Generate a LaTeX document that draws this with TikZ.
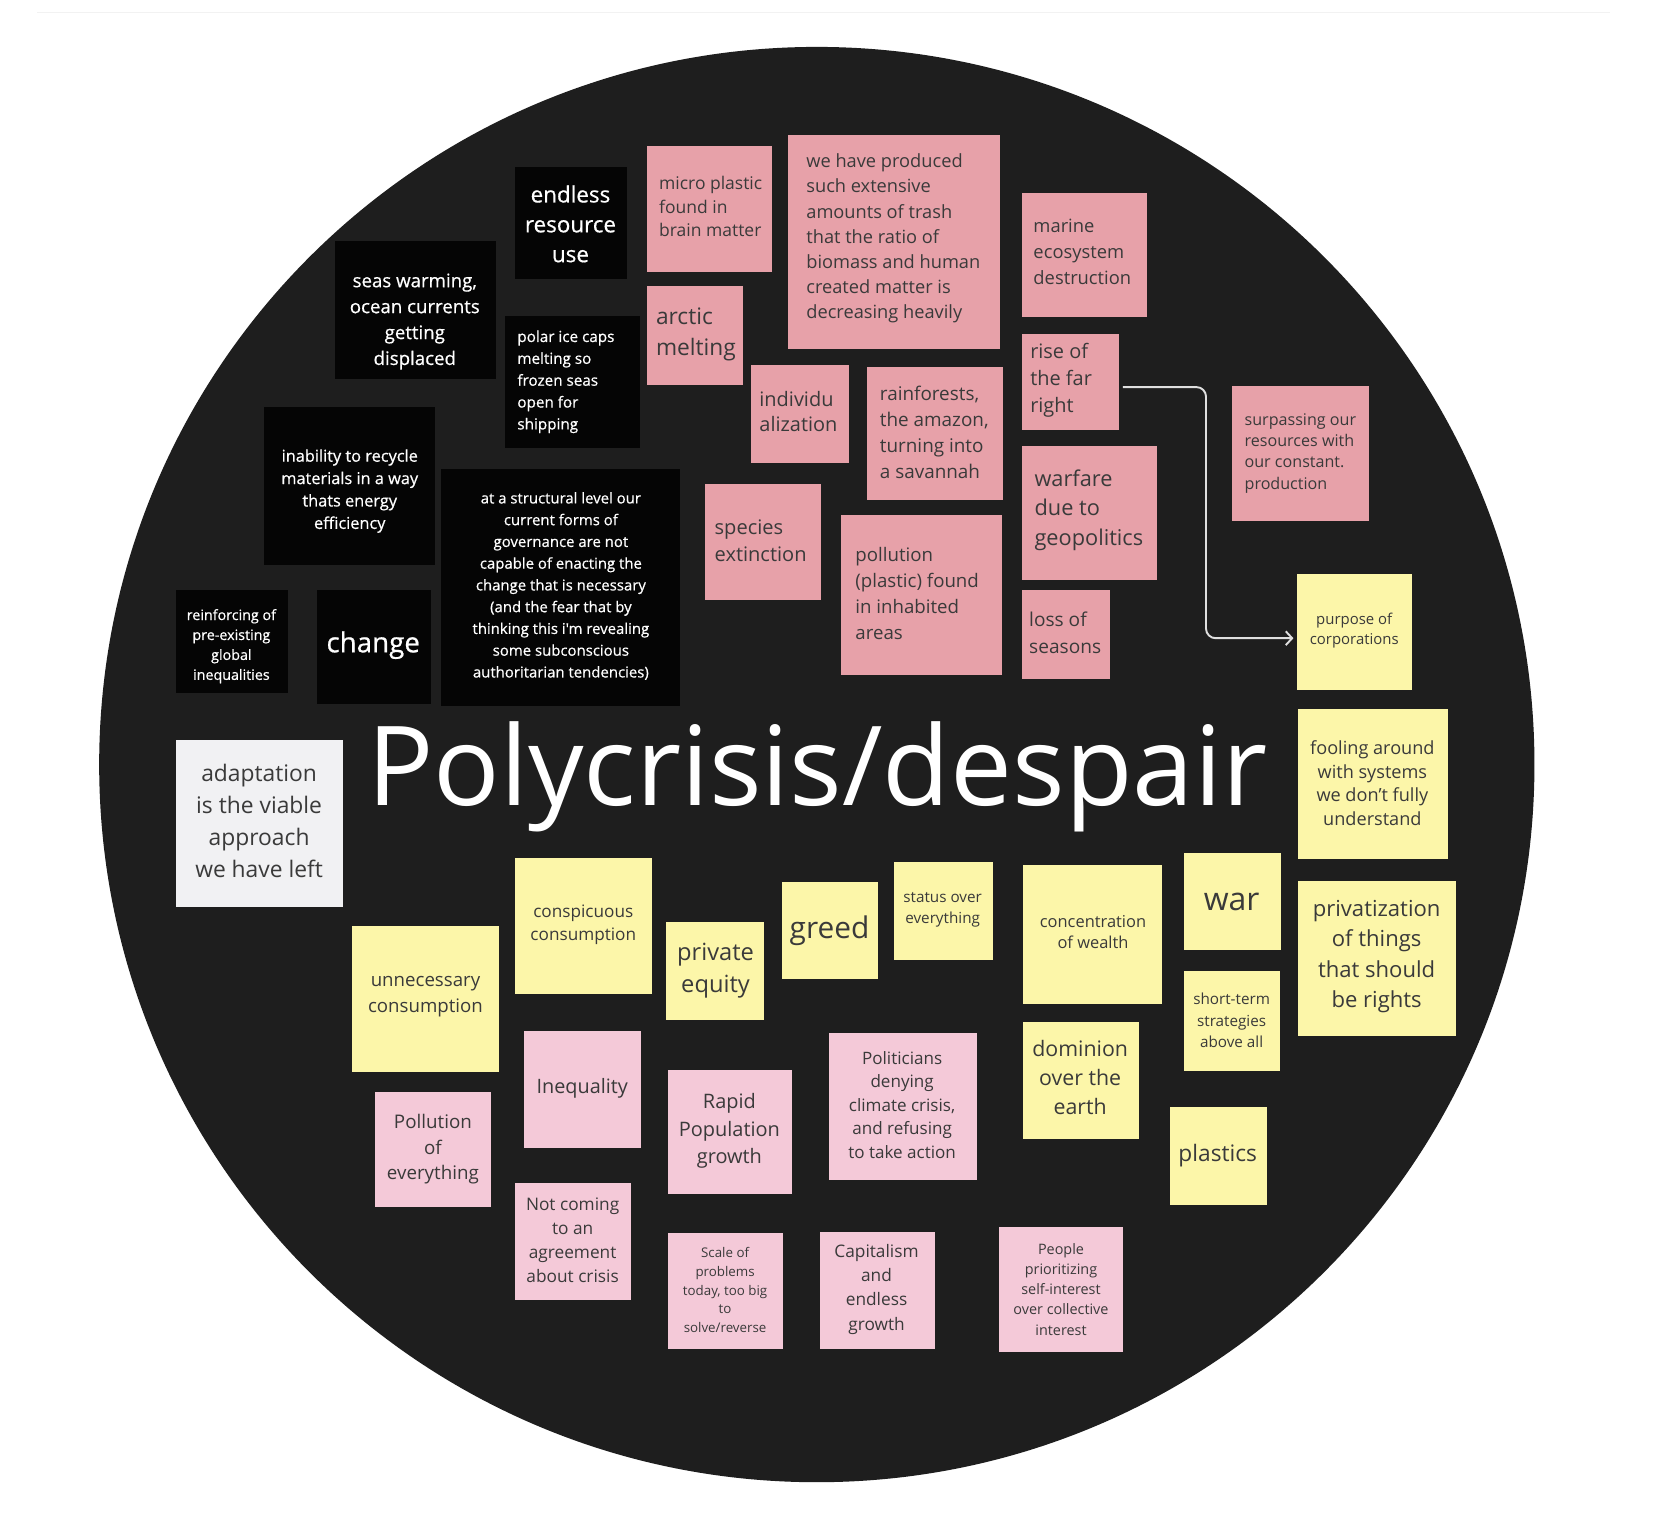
\documentclass[tikz,border=0pt]{standalone}
\usepackage{fontspec}
\setmainfont{Open Sans}
\newfontfamily\semi{Open Sans}[FakeBold=0.6]
\usetikzlibrary{arrows.meta}
\definecolor{bg}{HTML}{1E1E1E}
\definecolor{salmon}{HTML}{E7A1A9}
\definecolor{lpink}{HTML}{F4C9D8}
\definecolor{yel}{HTML}{FCF6A9}
\definecolor{wnote}{HTML}{F1F1F3}
\definecolor{ink}{HTML}{3A3A3A}
\definecolor{blacknote}{HTML}{050505}
\newcommand\fs[2]{\fontsize{#1}{#2}\selectfont}
\newcommand\sticky[6]{\node[#2, minimum width={#5-#3}, minimum height={#6-#4}] (#1) at ({(#3+#5)/2},{(#4+#6)/2}) {};}
\tikzset{
 sbox/.style={draw=none, inner sep=0, outer sep=0, rectangle},
 blk/.style={sbox, fill=blacknote},
 sal/.style={sbox, fill=salmon},
 pnk/.style={sbox, fill=lpink},
 yw/.style={sbox, fill=yel},
 wh/.style={sbox, fill=wnote},
 tw/.style={inner sep=0, text=white, align=center},
 twl/.style={inner sep=0, text=white, align=left, anchor=west},
 tk/.style={inner sep=0, text=ink, align=center},
 tkl/.style={inner sep=0, text=ink, align=left, anchor=west},
 conn/.style={draw=gray!25, line width=1.8pt, rounded corners=9pt, -{Straight Barb[length=6pt,width=13pt]}}
}
\begin{document}
\begin{tikzpicture}[x={(1pt,0)}, y={(0,-1pt)}]
\useasboundingbox (0,0) rectangle (1568,1429);
\fill[white] (0,0) rectangle (1568,1429);
\draw[gray!10, line width=1pt] (35,12) -- (1510,12);
\fill[bg] (766,717) circle[radius=673pt];

% black notes
\sticky{endless}{blk}{483}{157}{588}{262}
\node[tw, font=\semi\fs{21}{28}] (endless-t) at (535,210) {endless\\resource\\use};
\sticky{seas}{blk}{314}{226}{465}{355}
\node[tw, font=\semi\fs{17.5}{24.3}] (seas-t) at (389,301.5) {seas warming,\\ocean currents\\getting\\displaced};
\sticky{polar}{blk}{474}{296}{600}{420}
\node[twl, font=\semi\fs{14.3}{20.5}] (polar-t) at (485,358) {polar ice caps\\melting so\\frozen seas\\open for\\shipping};
\sticky{recycle}{blk}{248}{382}{408}{530}
\node[tw, font=\semi\fs{15.3}{21}] (recycle-t) at (328,460.5) {inability to recycle\\materials in a way\\thats energy\\efficiency};
\sticky{govern}{blk}{414}{440}{638}{662}
\node[tw, font=\semi\fs{14}{20.4}] (govern-t) at (526,549.5) {at a structural level our\\current forms of\\governance are not\\capable of enacting the\\change that is necessary\\(and the fear that by\\thinking this i'm revealing\\some subconscious\\authoritarian tendencies)};
\sticky{reinf}{blk}{165}{553}{270}{650}
\node[tw, font=\semi\fs{13.4}{18.7}] (reinf-t) at (217,606) {reinforcing of\\pre-existing\\global\\inequalities};
\sticky{change}{blk}{297}{553}{404}{660}
\node[tw, font=\semi\fs{26}{30}] (change-t) at (350,605) {change};

% salmon notes
\sticky{micro}{sal}{607}{137}{724}{255}
\node[tkl, font=\fs{16.4}{22}] (micro-t) at (618,194) {micro plastic\\found in\\brain matter};
\sticky{arctic}{sal}{607}{268}{697}{361}
\node[tkl, font=\fs{21.3}{29}] (arctic-t) at (615,313.5) {arctic\\melting};
\sticky{trash}{sal}{739}{127}{938}{327}
\node[tkl, font=\fs{17.1}{23.5}] (trash-t) at (756,223.5) {we have produced\\such extensive\\amounts of trash\\that the ratio of\\biomass and human\\created matter is\\decreasing heavily};
\sticky{marine}{sal}{958}{181}{1076}{297}
\node[tkl, font=\fs{17.2}{24.5}] (marine-t) at (969,236.5) {marine\\ecosystem\\destruction};
\sticky{indiv}{sal}{704}{342}{796}{434}
\node[tkl, font=\fs{18.7}{24}] (indiv-t) at (712,386) {individu\\alization};
\sticky{rain}{sal}{813}{344}{941}{469}
\node[tkl, font=\fs{17.7}{24.3}] (rain-t) at (825,405.5) {rainforests,\\the amazon,\\turning into\\a savannah};
\sticky{rise}{sal}{958}{313}{1049}{403}
\node[tkl, font=\fs{18.7}{25.5}] (rise-t) at (966,356.5) {rise of\\the far\\right};
\sticky{warfare}{sal}{958}{418}{1085}{544}
\node[tkl, font=\fs{20.4}{27.5}] (warfare-t) at (970,478.5) {warfare\\due to\\geopolitics};
\sticky{species}{sal}{661}{454}{770}{563}
\node[tkl, font=\fs{18.8}{26}] (species-t) at (670,507) {species\\extinction};
\sticky{pollut}{sal}{789}{483}{940}{633}
\node[tkl, font=\fs{17.5}{24.3}] (pollut-t) at (802,556.5) {pollution\\(plastic) found\\in inhabited\\areas};
\sticky{loss}{sal}{958}{553}{1041}{637}
\node[tkl, font=\fs{17.9}{25}] (loss-t) at (965,593.5) {loss of\\seasons};
\sticky{surpass}{sal}{1155}{362}{1284}{489}
\node[tkl, font=\fs{15.1}{20}] (surpass-t) at (1167,425) {surpassing our\\resources with\\our constant.\\production};

% yellow notes
\sticky{purpose}{yw}{1216}{538}{1324}{647}
\node[tk, font=\fs{14}{19}] (purpose-t) at (1270,591.5) {purpose of\\corporations};
\sticky{fooling}{yw}{1217}{665}{1358}{806}
\node[tk, font=\fs{17}{22.3}] (fooling-t) at (1287,734.5) {fooling around\\with systems\\we don't fully\\understand};
\sticky{privat}{yw}{1217}{826}{1365}{972}
\node[tk, font=\fs{20.7}{28.7}] (privat-t) at (1291,897) {privatization\\of things\\that should\\be rights};
\sticky{war}{yw}{1110}{800}{1201}{891}
\node[tk, font=\fs{30}{32}] (war-t) at (1155,846) {war};
\sticky{short}{yw}{1110}{911}{1200}{1004}
\node[tk, font=\fs{14.3}{20}] (short-t) at (1155,957) {short-term\\strategies\\above all};
\sticky{plastics}{yw}{1097}{1038}{1188}{1130}
\node[tk, font=\fs{21.3}{24}] (plastics-t) at (1142,1084) {plastics};
\sticky{concen}{yw}{959}{811}{1090}{942}
\node[tk, font=\fs{15.4}{20}] (concen-t) at (1025,874) {concentration\\of wealth};
\sticky{dominion}{yw}{959}{958}{1068}{1068}
\node[tk, font=\fs{20}{27.5}] (dominion-t) at (1013,1010.5) {dominion\\over the\\earth};
\sticky{status}{yw}{838}{808}{931}{900}
\node[tk, font=\fs{14.3}{20}] (status-t) at (884,853) {status over\\everything};
\sticky{greed}{yw}{733}{827}{823}{918}
\node[tk, font=\fs{28}{30}] (greed-t) at (778,873) {greed};
\sticky{pequity}{yw}{625}{865}{716}{957}
\node[tk, font=\fs{22.2}{30}] (pequity-t) at (671,910) {private\\equity};
\sticky{consp}{yw}{483}{805}{611}{932}
\node[tk, font=\fs{16.1}{22}] (consp-t) at (547,867) {conspicuous\\consumption};
\sticky{unnec}{yw}{330}{868}{468}{1005}
\node[tk, font=\fs{17.5}{25}] (unnec-t) at (399,934.5) {unnecessary\\consumption};

% white note
\sticky{adapt}{wh}{165}{694}{322}{851}
\node[tk, font=\fs{21.4}{30}] (adapt-t) at (243,770) {adaptation\\is the viable\\approach\\we have left};

% light pink notes
\sticky{pollev}{pnk}{352}{1024}{460}{1132}
\node[tk, font=\fs{17.6}{24}] (pollev-t) at (406,1078) {Pollution\\of\\everything};
\sticky{ineq}{pnk}{491}{967}{601}{1077}
\node[tk, font=\fs{18.6}{24}] (ineq-t) at (546,1021) {Inequality};
\sticky{rapid}{pnk}{626}{1003}{743}{1120}
\node[tk, font=\fs{18.7}{25.5}] (rapid-t) at (684,1060.5) {Rapid\\Population\\growth};
\sticky{politic}{pnk}{777}{969}{916}{1107}
\node[tk, font=\fs{16}{22}] (politic-t) at (846,1036) {Politicians\\denying\\climate crisis,\\and refusing\\to take action};
\sticky{notcom}{pnk}{483}{1109}{592}{1219}
\node[tk, font=\fs{16.2}{22.7}] (notcom-t) at (537,1163) {Not coming\\to an\\agreement\\about crisis};
\sticky{scale}{pnk}{626}{1156}{734}{1265}
\node[tk, font=\fs{12.5}{17.5}] (scale-t) at (680,1210) {Scale of\\problems\\today, too big\\to\\solve/reverse};
\sticky{capit}{pnk}{769}{1155}{877}{1265}
\node[tk, font=\fs{16.2}{22.7}] (capit-t) at (822,1209) {Capitalism\\and\\endless\\growth};
\sticky{people}{pnk}{937}{1151}{1053}{1268}
\node[tk, font=\fs{13.5}{19}] (people-t) at (995,1209) {People\\prioritizing\\self-interest\\over collective\\interest};

% title
\node[inner sep=0, anchor=base west, text=white, font=\fs{103.5}{110}] (title) at (344,755) {Polycrisis/despair};

% connector
\coordinate (bend) at (1131,0);
\draw[conn] ([xshift=4pt,yshift=-5pt]rise.east) -| ([yshift=-6pt]bend |- purpose.west) -- ([xshift=-3pt,yshift=-6pt]purpose.west);
\end{tikzpicture}
\end{document}
